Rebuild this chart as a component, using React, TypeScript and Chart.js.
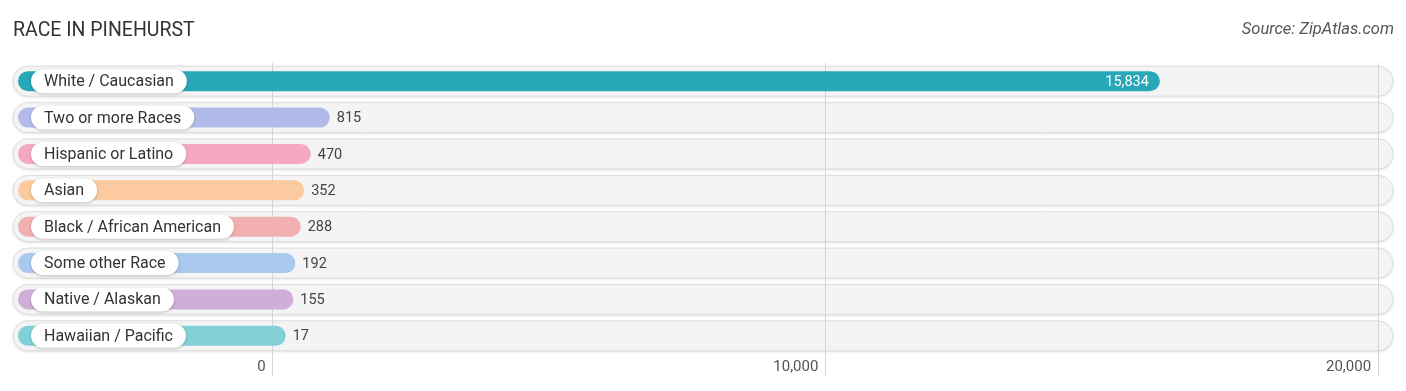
import React, { useEffect, useRef } from 'react';
import { Chart, registerables } from 'chart.js';

Chart.register(...registerables);

const title = 'RACE IN PINEHURST';
const source = 'Source: ZipAtlas.com';
const categories = [
  'White / Caucasian',
  'Two or more Races',
  'Hispanic or Latino',
  'Asian',
  'Black / African American',
  'Some other Race',
  'Native / Alaskan',
  'Hawaiian / Pacific',
];
const values = [15834, 815, 470, 352, 288, 192, 155, 17];
const colors = ['#27a7b7', '#b2baea', '#f5a8c4', '#fbca9e', '#f2afaf', '#a9c9ee', '#cfaed7', '#80d0d6'];
const tickValues = [0, 10000, 20000];

const FONT = 'Roboto, "Noto Sans", sans-serif';

function roundRect(ctx: CanvasRenderingContext2D, x: number, y: number, w: number, h: number, r: number) {
  const rr = Math.min(r, h / 2, w / 2);
  ctx.beginPath();
  ctx.moveTo(x + rr, y);
  ctx.lineTo(x + w - rr, y);
  ctx.arc(x + w - rr, y + rr, rr, -Math.PI / 2, 0);
  ctx.lineTo(x + w, y + h - rr);
  ctx.arc(x + w - rr, y + h - rr, rr, 0, Math.PI / 2);
  ctx.lineTo(x + rr, y + h);
  ctx.arc(x + rr, y + h - rr, rr, Math.PI / 2, Math.PI);
  ctx.lineTo(x, y + rr);
  ctx.arc(x + rr, y + rr, rr, Math.PI, Math.PI * 1.5);
  ctx.closePath();
}

const racePlugin = {
  id: 'racePlugin',
  beforeDraw(chart: any) {
    const { ctx, chartArea, scales } = chart;
    const ys = scales.y;
    ctx.save();
    categories.forEach((_, i) => {
      const cy = ys.getPixelForValue(i);
      const h = 30;
      roundRect(ctx, chartArea.left, cy - h / 2, chartArea.right - chartArea.left, h, h / 2);
      ctx.shadowColor = 'rgba(0,0,0,0.14)';
      ctx.shadowBlur = 3;
      ctx.shadowOffsetY = 1;
      ctx.fillStyle = '#f4f4f4';
      ctx.fill();
      ctx.shadowColor = 'transparent';
      ctx.strokeStyle = '#dcdcdc';
      ctx.lineWidth = 1;
      ctx.stroke();
    });
    ctx.restore();
  },
  afterDatasetsDraw(chart: any) {
    const { ctx, chartArea, scales } = chart;
    const xs = scales.x;
    const ys = scales.y;
    ctx.save();
    values.forEach((v, i) => {
      const cy = ys.getPixelForValue(i);
      const left = chartArea.left + 5;
      const right = xs.getPixelForValue(v) + 12;
      const bh = 20;
      roundRect(ctx, left, cy - bh / 2, right - left, bh, bh / 2);
      ctx.fillStyle = colors[i];
      ctx.fill();

      // label pill
      ctx.font = `16px ${FONT}`;
      const tw = ctx.measureText(categories[i]).width;
      const px = chartArea.left + 18;
      const ph = 24;
      roundRect(ctx, px, cy - ph / 2, tw + 26, ph, ph / 2);
      ctx.shadowColor = 'rgba(0,0,0,0.22)';
      ctx.shadowBlur = 3;
      ctx.shadowOffsetY = 1;
      ctx.fillStyle = '#ffffff';
      ctx.fill();
      ctx.shadowColor = 'transparent';
      ctx.shadowBlur = 0;
      ctx.shadowOffsetY = 0;
      ctx.fillStyle = '#333333';
      ctx.textBaseline = 'middle';
      ctx.textAlign = 'left';
      ctx.fillText(categories[i], px + 13, cy + 1);

      // value
      const label = v.toLocaleString('en-US');
      ctx.font = `14.5px ${FONT}`;
      const inside = right - left > (chartArea.right - chartArea.left) / 2;
      if (inside) {
        ctx.fillStyle = '#ffffff';
        ctx.textAlign = 'right';
        ctx.fillText(label, right - 11, cy + 1);
      } else {
        ctx.fillStyle = '#444444';
        ctx.textAlign = 'left';
        ctx.fillText(label, right + 7, cy + 1);
      }
    });

    // x tick labels, positioned from the library's ticks
    ctx.font = `15px ${FONT}`;
    ctx.fillStyle = '#555555';
    ctx.textAlign = 'right';
    ctx.textBaseline = 'middle';
    xs.ticks.forEach((t: any) => {
      const x = xs.getPixelForValue(t.value);
      ctx.fillText(Number(t.value).toLocaleString('en-US'), x - 7, chartArea.bottom + 13.5);
    });
    ctx.restore();
  },
};

export default function App() {
  const ref = useRef<HTMLCanvasElement | null>(null);
  useEffect(() => {
    document.body.style.margin = '0';
    const canvas = ref.current;
    if (!canvas) return;
    const chart = new Chart(canvas, {
      type: 'bar',
      data: {
        labels: categories,
        datasets: [
          {
            data: values,
            backgroundColor: 'rgba(0,0,0,0)',
            borderWidth: 0,
          },
        ],
      },
      options: {
        indexAxis: 'y',
        animation: false,
        responsive: false,
        maintainAspectRatio: false,
        events: [],
        layout: { padding: { top: 63, left: 13, right: 13, bottom: 15 } },
        plugins: {
          legend: { display: false },
          tooltip: { enabled: false },
          title: { display: false },
        },
        scales: {
          y: { display: false },
          x: {
            min: -4700,
            max: 20270,
            afterBuildTicks: (scale: any) => {
              scale.ticks = tickValues.map((v) => ({ value: v }));
            },
            border: { display: false },
            grid: {
              color: '#d4d4d4',
              lineWidth: 1,
              drawTicks: true,
              tickLength: 22,
              tickColor: '#d4d4d4',
            },
            ticks: {
              display: false,
            },
          },
        },
      },
      plugins: [racePlugin],
    });
    return () => chart.destroy();
  }, []);

  return (
    <div style={{ position: 'relative', width: 1406, height: 391, background: '#fff' }}>
      <div
        style={{
          position: 'absolute',
          left: 13,
          top: 18,
          fontFamily: FONT,
          fontSize: 19.5,
          color: '#333',
          lineHeight: '24px',
          whiteSpace: 'nowrap',
        }}
      >
        {title}
      </div>
      <div
        style={{
          position: 'absolute',
          right: 12,
          top: 19,
          fontFamily: FONT,
          fontSize: 16.5,
          fontStyle: 'italic',
          color: '#555',
          lineHeight: '20px',
          whiteSpace: 'nowrap',
        }}
      >
        {source}
      </div>
      <canvas ref={ref} width={1406} height={391} style={{ display: 'block', width: 1406, height: 391 }} />
    </div>
  );
}
